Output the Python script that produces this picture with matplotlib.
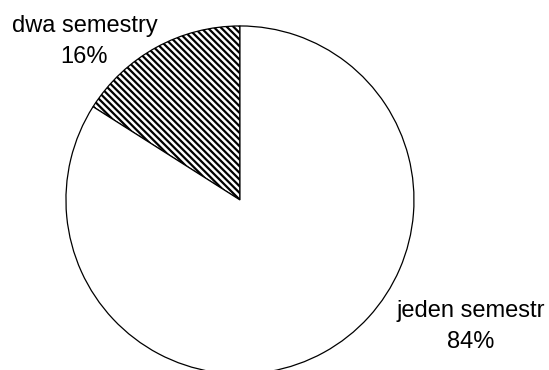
import matplotlib
matplotlib.use("Agg")
import matplotlib.pyplot as plt

labels = ["dwa semestry", "jeden semestr"]
values = [16, 84]
pct_labels = ["16%", "84%"]
hatches = ["\\" * 5, ""]

plt.rcParams["font.family"] = ["Liberation Sans", "DejaVu Sans"]
plt.rcParams["hatch.linewidth"] = 1.6
plt.rcParams["hatch.color"] = "black"

fig = plt.figure(figsize=(5.49, 3.70), dpi=100)
ax = fig.add_axes([0, 0, 1, 1])
wedges, _ = ax.pie(values, startangle=90, counterclock=True,
                   colors=["white", "white"],
                   wedgeprops=dict(edgecolor="black", linewidth=0.9))
for w, h in zip(wedges, hatches):
    w.set_hatch(h)

ax.set_xlim(-1.379, 1.776)
ax.set_ylim(-0.977, 1.149)
ax.set_aspect("equal")
ax.axis("off")

label_x = [-0.894, 1.328]
line1_y = [0.967, -0.671]
line2_y = [0.787, -0.851]
for x, y1, y2, lab, p in zip(label_x, line1_y, line2_y, labels, pct_labels):
    ax.text(x, y1, lab, ha="center", va="baseline", fontsize=17)
    ax.text(x, y2, p, ha="center", va="baseline", fontsize=17)

fig.savefig("out.png", dpi=100)
